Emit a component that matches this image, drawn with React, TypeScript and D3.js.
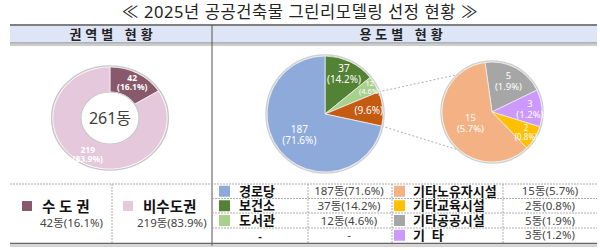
import React from 'react';
import * as d3 from 'd3';

const TITLE = '≪ 2025년 공공건축물 그린리모델링 선정 현황 ≫';
const HEAD_LEFT = '권역별 현황';
const HEAD_RIGHT = '용도별 현황';

const regionNames = ['수 도 권', '비수도권'];
const regionValues = [42, 219];
const regionPcts = ['16.1', '83.9'];
const regionColors = ['#87596b', '#e6c8dc'];
const totalLabel = '261동';

// main pie (drawn clockwise from 12 o'clock)
const useNames = ['보건소', '도서관', '기타', '경로당'];
const useValues = [37, 12, 25, 187];
const usePcts = ['14.2', '4.6', '9.6', '71.6'];
const useColors = ['#548235', '#a9d18e', '#c55a11', '#8eaadb'];

// sub pie (breakdown of 기타)
const subNames = ['기타공공시설', '기 타', '기타교육시설', '기타노유자시설'];
const subValues = [5, 3, 2, 15];
const subPcts = ['1.9', '1.2', '0.8', '5.7'];
const subColors = ['#a6a6a6', '#cc99ff', '#ffc000', '#f4b183'];

// table rows
const leftTableNames = ['경로당', '보건소', '도서관', '-'];
const leftTableVals = ['187동(71.6%)', '37동(14.2%)', '12동(4.6%)', '-'];
const leftTableColors = ['#8eaadb', '#548235', '#a9d18e', null];
const rightTableNames = ['기타노유자시설', '기타교육시설', '기타공공시설', '기  타'];
const rightTableVals = ['15동(5.7%)', '2동(0.8%)', '5동(1.9%)', '3동(1.2%)'];
const rightTableColors = ['#f4b183', '#ffc000', '#a6a6a6', '#cc99ff'];

const FONT = "'Noto Sans', 'Noto Sans CJK KR', sans-serif";

export default function App() {
  const deg = Math.PI / 180;
  // donut
  const dc = { x: 110, y: 118 };
  const dsx = 1.12;
  const dPie = d3.pie<number>().sort(null).value((d) => d)(regionValues);
  const dArc = d3.arc<d3.PieArcDatum<number>>().innerRadius(26).outerRadius(51);
  const dLabelArc = d3.arc<d3.PieArcDatum<number>>().innerRadius(41).outerRadius(41);

  // main pie
  const mc = { x: 325, y: 114 };
  const mr = 58;
  const mPie = d3.pie<number>().sort(null).value((d) => d)(useValues);
  const mArc = d3.arc<d3.PieArcDatum<number>>().innerRadius(0).outerRadius(mr);
  const mLabelR = [44, 52, 44, 33];

  // sub pie
  const sc = { x: 492, y: 112 };
  const sr = 50;
  const sPie = d3
    .pie<number>()
    .sort(null)
    .value((d) => d)
    .startAngle(-8 * deg)
    .endAngle(352 * deg)(subValues);
  const sArc = d3.arc<d3.PieArcDatum<number>>().innerRadius(0).outerRadius(sr);
  const sLabelR = [35, 38, 40, 24];

  const polar = (c: { x: number; y: number }, r: number, a: number) => [
    c.x + r * Math.sin(a),
    c.y - r * Math.cos(a),
  ];
  const orange = mPie[2];
  const p1 = polar(mc, mr, orange.startAngle);
  const p2 = polar(mc, mr, orange.endAngle);
  const q1 = polar(sc, sr, -41 * deg);
  const q2 = polar(sc, sr, 220 * deg);

  const labelAt = (d: any, c: { x: number; y: number }, r: number) => {
    const a = (d.startAngle + d.endAngle) / 2;
    return polar(c, r, a);
  };

  const rowY = [184, 198.5, 213, 228, 242.5];

  return (
    <svg
      width={600}
      height={250}
      style={{ position: 'absolute', left: 0, top: 0, background: '#fff', fontFamily: FONT }}
    >
      <rect x={0} y={0} width={600} height={250} fill="#fff" />
      {/* title */}
      <text x={300} y={18} textAnchor="middle" fontSize={16.5} fill="#222" letterSpacing={0.6}>
        {TITLE}
      </text>

      {/* header band */}
      <rect x={10} y={25} width={587} height={18} fill="#dde5f7" />
      <line x1={10} x2={597} y1={25} y2={25} stroke="#7f7f7f" strokeWidth={2} />
      <line x1={10} x2={597} y1={43} y2={43} stroke="#7f7f7f" strokeWidth={1.2} />
      <line x1={10} x2={597} y1={45} y2={45} stroke="#9a9a9a" strokeWidth={1} />
      <text x={113} y={38.5} textAnchor="middle" fontSize={13} fontWeight={700} fill="#222" letterSpacing={4}>
        {HEAD_LEFT}
      </text>
      <text x={403} y={38.5} textAnchor="middle" fontSize={13} fontWeight={700} fill="#222" letterSpacing={4}>
        {HEAD_RIGHT}
      </text>
      <line x1={212} x2={212} y1={25} y2={246} stroke="#555" strokeWidth={1} />

      {/* donut */}
      <g transform={`translate(${dc.x},${dc.y}) scale(${dsx},1)`}>
        <circle r={52} fill="none" stroke="#c8c8c8" strokeWidth={1.5} />
        {dPie.map((d, i) => (
          <path key={i} d={dArc(d) || ''} fill={regionColors[i]} stroke="#fff" strokeWidth={0.6} />
        ))}
        <circle r={26} fill="#fff" stroke="#c8c8c8" strokeWidth={1.2} />
      </g>
      {dPie.map((d, i) => {
        const [cx, cy] = dLabelArc.centroid(d);
        const x = dc.x + cx * dsx;
        const y = dc.y + cy;
        return (
          <text key={i} textAnchor="middle" fontSize={8.5} fontWeight={700} fill="#fff">
            <tspan x={x} y={y - 1}>{regionValues[i]}</tspan>
            <tspan x={x} y={y + 8}>({regionPcts[i]}%)</tspan>
          </text>
        );
      })}
      <text x={dc.x} y={dc.y + 6} textAnchor="middle" fontSize={16} fill="#404040">
        {totalLabel}
      </text>

      {/* connectors */}
      <line x1={p1[0]} y1={p1[1]} x2={q1[0]} y2={q1[1]} stroke="#999" strokeWidth={0.8} strokeDasharray="2,2" />
      <line x1={p2[0]} y1={p2[1]} x2={q2[0]} y2={q2[1]} stroke="#999" strokeWidth={0.8} strokeDasharray="2,2" />

      {/* main pie */}
      <g transform={`translate(${mc.x},${mc.y})`}>
        <circle r={mr + 1} fill="none" stroke="#d0d0d0" strokeWidth={1.5} />
        {mPie.map((d, i) => (
          <path key={i} d={mArc(d) || ''} fill={useColors[i]} stroke="#eee" strokeWidth={0.8} />
        ))}
      </g>
      {mPie.map((d, i) => {
        const [x, y] = labelAt(d, mc, mLabelR[i]);
        const small = i === 1;
        const fs = small ? 7.5 : 10;
        return (
          <text key={i} textAnchor="middle" fontSize={fs} fill="#fff">
            {i !== 2 && (
              <tspan x={x} y={y - (small ? 1 : 2)}>{useValues[i]}</tspan>
            )}
            <tspan x={x} y={i === 2 ? y + 4 : y + (small ? 7 : 9)}>({usePcts[i]}%)</tspan>
          </text>
        );
      })}

      {/* sub pie */}
      <g transform={`translate(${sc.x},${sc.y})`}>
        <circle r={sr + 1} fill="none" stroke="#d0d0d0" strokeWidth={1.5} />
        {sPie.map((d, i) => (
          <path key={i} d={sArc(d) || ''} fill={subColors[i]} stroke="#eee" strokeWidth={0.8} />
        ))}
      </g>
      {sPie.map((d, i) => {
        const [x, y] = labelAt(d, sc, sLabelR[i]);
        const fs = i === 2 ? 8 : 9.5;
        return (
          <text key={i} textAnchor="middle" fontSize={fs} fill="#fff">
            <tspan x={x} y={y - 2}>{subValues[i]}</tspan>
            <tspan x={x} y={y + (i === 2 ? 7 : 9)}>({subPcts[i]}%)</tspan>
          </text>
        );
      })}

      {/* table grid */}
      <line x1={10} x2={597} y1={184} y2={184} stroke="#999" strokeWidth={0.8} strokeDasharray="2,1" />
      {rowY.slice(1, 4).map((y, i) => (
        <line key={i} x1={212} x2={597} y1={y} y2={y} stroke="#999" strokeWidth={0.8} strokeDasharray="2,1" />
      ))}
      <line x1={112} x2={112} y1={184} y2={243} stroke="#999" strokeWidth={0.8} strokeDasharray="2,1" />
      {[308, 392, 503].map((x, i) => (
        <line key={i} x1={x} x2={x} y1={184} y2={243} stroke="#999" strokeWidth={0.8} strokeDasharray="2,1" />
      ))}
      <line x1={10} x2={597} y1={243.5} y2={243.5} stroke="#666" strokeWidth={1.5} />
      <line x1={10} x2={597} y1={246} y2={246} stroke="#aaa" strokeWidth={1} />

      {/* left legend */}
      {regionNames.map((n, i) => {
        const x0 = i === 0 ? 22 : 123;
        return (
          <g key={i}>
            <rect x={x0} y={201} width={10} height={10} fill={regionColors[i]} />
            <text x={x0 + 20} y={212} fontSize={14.5} fontWeight={700} fill="#111" style={{ whiteSpace: 'pre' }}>
              {n}
            </text>
            <text x={i === 0 ? 40 : 137} y={227} fontSize={11.5} fill="#444">
              {regionValues[i]}동({regionPcts[i]}%)
            </text>
          </g>
        );
      })}

      {/* right table */}
      {leftTableNames.map((n, i) => {
        const yc = (rowY[i] + rowY[i + 1]) / 2;
        const col = leftTableColors[i];
        return (
          <g key={'l' + i}>
            {col && <rect x={219} y={yc - 5.5} width={11} height={11} fill={col} />}
            <text
              x={col ? 239 : 260}
              y={yc + 4.5}
              fontSize={col ? 13 : 11}
              fontWeight={700}
              textAnchor={col ? 'start' : 'middle'}
              fill="#111"
            >
              {n}
            </text>
            <text x={349} y={yc + 4} fontSize={11.5} textAnchor="middle" fill="#444">
              {leftTableVals[i]}
            </text>
          </g>
        );
      })}
      {rightTableNames.map((n, i) => {
        const yc = (rowY[i] + rowY[i + 1]) / 2;
        return (
          <g key={'r' + i}>
            <rect x={394} y={yc - 5.5} width={11} height={11} fill={rightTableColors[i]} />
            <text x={413} y={yc + 4.5} fontSize={13} fontWeight={700} fill="#111" style={{ whiteSpace: 'pre' }}>
              {n}
            </text>
            <text x={550} y={yc + 4} fontSize={11.5} textAnchor="middle" fill="#444">
              {rightTableVals[i]}
            </text>
          </g>
        );
      })}
    </svg>
  );
}
